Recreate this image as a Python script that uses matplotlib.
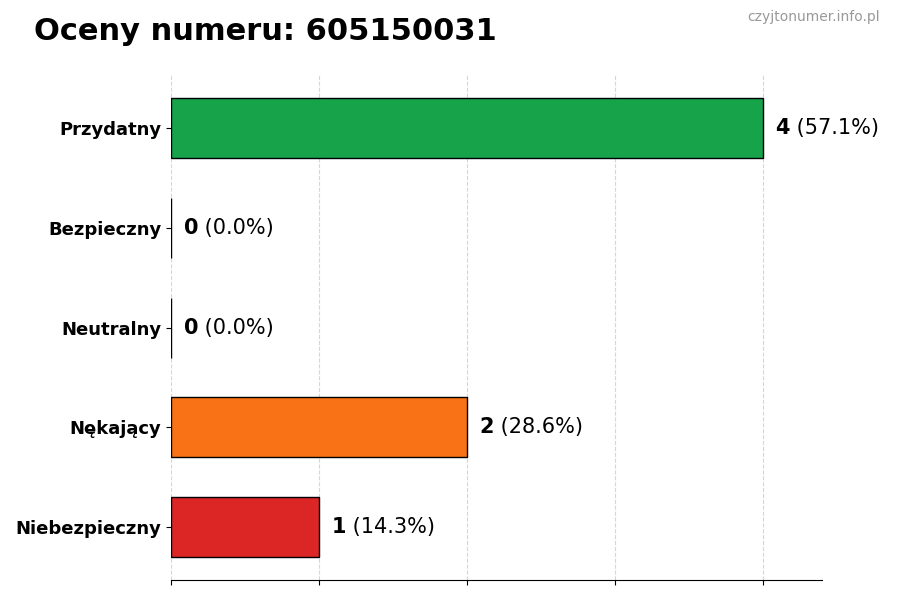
import matplotlib.pyplot as plt

categories = ["Niebezpieczny", "Nękający", "Neutralny", "Bezpieczny", "Przydatny"]
counts = [1, 2, 0, 0, 4]
colors = ["#dc2626", "#f97316", "#9ca3af", "#3b82f6", "#16a34a"]
total = sum(counts)

fig = plt.figure(figsize=(9, 6), dpi=100)
ax = fig.add_axes([0.19, 0.033, 0.723, 0.842])

ypos = list(range(len(categories)))
ax.barh(ypos, counts, height=0.6, color=colors, edgecolor="black", linewidth=1)

ax.set_yticks(ypos)
ax.set_yticklabels(categories, fontsize=13, fontweight="bold")
ax.set_xlim(0, 4.4)
ax.set_xticks([0, 1, 2, 3, 4])
ax.set_xticklabels([])
ax.xaxis.grid(True, linestyle="--", color="#cccccc", alpha=0.8)
ax.set_axisbelow(True)
for s in ["top", "right", "left"]:
    ax.spines[s].set_visible(False)

for y, c in zip(ypos, counts):
    pct = c / total * 100
    t = ax.text(c + 0.085, y, f"{c}", fontsize=15, fontweight="bold", va="center", ha="left")
    ax.annotate(f" ({pct:.1f}%)", xycoords=t, xy=(1, 0.5), va="center", ha="left", fontsize=15)

fig.text(0.038, 0.947, "Oceny numeru: 605150031", fontsize=22, fontweight="bold", va="center")
fig.text(0.978, 0.971, "czyjtonumer.info.pl", fontsize=10, color="#999999", ha="right", va="center")

fig.savefig("out.png")
